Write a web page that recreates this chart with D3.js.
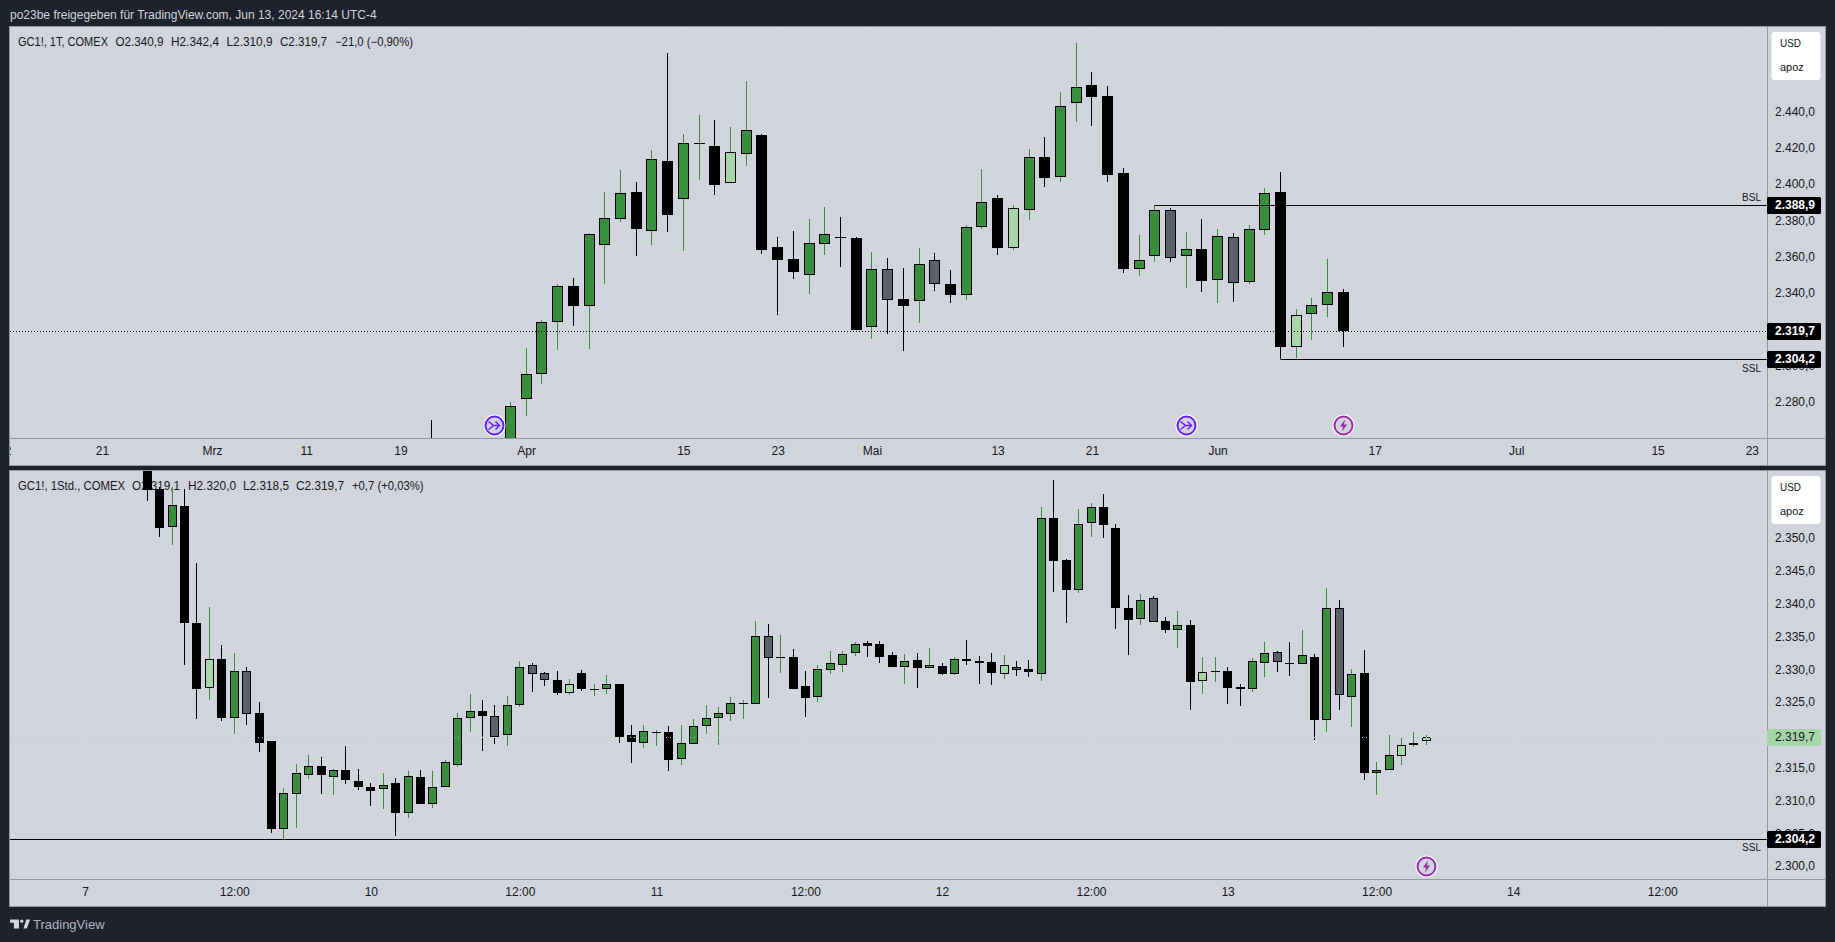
<!DOCTYPE html>
<html>
<head>
<meta charset="utf-8">
<title>GC1! daily and hourly</title>
<script src="https://cdn.jsdelivr.net/npm/d3@7/dist/d3.min.js"></script>
<style>
  html, body { margin: 0; padding: 0; background: #1e222d; overflow: hidden; }
  svg { display: block; }
  text { font-family: "Liberation Sans", Arial, sans-serif; }
</style>
</head>
<body>
<div id="chart"></div>
<script>
// kinds: u = up, d = down, l = up inside bar, s = down inside bar

// daily pane, bar numbers are trading days counted from the first April candle
var dailyBars = [-5, 0, 1, 2, 3, 4, 5, 6, 7, 8, 9, 10, 11, 12, 13, 14, 15, 16, 17, 18, 19, 20, 21, 22, 23, 24, 25, 26, 27, 28, 29, 30, 31, 32, 33, 34, 35, 36, 37, 38, 39, 40, 41, 42, 43, 44, 45, 46, 47, 48, 49, 50, 51, 52, 53];
var dailyOpen = [2258, 2255, 2282.2, 2296, 2324.6, 2344.1, 2333, 2367, 2381.3, 2395.8, 2374.7, 2412.8, 2392.3, 2422.8, 2421.1, 2401.1, 2417.1, 2427.2, 2365.5, 2358.9, 2350.5, 2367.5, 2371, 2370.5, 2321.5, 2353.4, 2336.9, 2336.2, 2358.4, 2345.2, 2339.5, 2376.9, 2392.5, 2365.3, 2386.2, 2415.1, 2404.4, 2445.1, 2454.9, 2448.8, 2406.4, 2353.8, 2360.9, 2385.9, 2360.9, 2364.4, 2347.7, 2371, 2346.6, 2375.2, 2395.8, 2310.9, 2329, 2334, 2340.9];
var dailyHigh = [2270.5, 2280.4, 2310.1, 2325.5, 2345.2, 2348.6, 2373.2, 2396, 2408.1, 2401.5, 2419.1, 2472.5, 2427.9, 2438.3, 2435.6, 2431.7, 2457.1, 2427.9, 2371.2, 2374.5, 2381.1, 2387.7, 2382.2, 2371.2, 2363, 2359.6, 2354.1, 2365.2, 2362.4, 2353, 2377.8, 2408.6, 2394.3, 2388.8, 2419.6, 2426.2, 2451, 2478, 2462, 2454.3, 2409.2, 2372.3, 2388.9, 2387, 2374, 2381.1, 2375.6, 2373.2, 2377.8, 2398, 2407, 2331.6, 2337.6, 2359.1, 2342.4];
var dailyLow = [2235, 2250, 2272.7, 2290.3, 2309, 2322.4, 2309.7, 2345.5, 2379.6, 2360.7, 2366.8, 2374.1, 2363.7, 2402.6, 2394.3, 2401.1, 2410.3, 2361.9, 2328.3, 2348.1, 2339.8, 2361.3, 2354.7, 2319.9, 2315.1, 2317.8, 2308.5, 2323.9, 2341.5, 2334.9, 2336.7, 2375.6, 2361.3, 2364.1, 2380.6, 2398.7, 2401.5, 2434.5, 2432.3, 2401.5, 2351.4, 2349.7, 2357.4, 2357.4, 2343.1, 2340.9, 2334.9, 2335.4, 2345.3, 2372.5, 2304.2, 2304.4, 2314.5, 2327.2, 2310.9];
var dailyClose = [2240, 2278, 2295.6, 2324.2, 2344.1, 2333.4, 2372.7, 2381.5, 2395.2, 2375.6, 2414, 2383.3, 2422.8, 2422.9, 2400, 2417.8, 2429.9, 2364.1, 2358.7, 2352.1, 2367.7, 2372.7, 2370.9, 2320, 2353.4, 2336.7, 2333.4, 2356.2, 2345.5, 2339.3, 2376.5, 2390.3, 2365.2, 2387, 2415.1, 2403.7, 2443.1, 2453.6, 2448.3, 2405.3, 2353.6, 2358.4, 2385.9, 2359.8, 2364.4, 2347, 2371.6, 2346.1, 2375.4, 2395.2, 2310.9, 2328.1, 2333.6, 2340.8, 2319.7];
var dailyKind = "d u u u u d u u u d u d u u d l u d d d u u d d u s d u s d u u d l u d u u d d d u u s u d u s u u d l u u d".split(" ");
var dailyTicks = [-32, -26, -19, -13, -7, 1, 11, 17, 23, 31, 37, 45, 55, 64, 73, 79];
var dailyTickLabels = ["2", "21", "Mrz", "11", "19", "Apr", "15", "23", "Mai", "13", "21", "Jun", "17", "Jul", "15", "23"];
var dailyPriceTicks = [2280, 2300, 2320, 2340, 2360, 2380, 2400, 2420, 2440];
var dailyEvents = [-1, 43, 53];
var dailyEventKinds = ["split", "split", "bolt"];

// hourly pane, bars counted from the first one in view
var hourlyOpen = [2365, 2357.6, 2351.7, 2355, 2337.1, 2327.3, 2331.6, 2322.7, 2329.8, 2323.4, 2319.1, 2305.8, 2311, 2314, 2315.4, 2313.7, 2314.7, 2313.1, 2312.1, 2311.9, 2312.7, 2308.1, 2313.6, 2309.6, 2312.2, 2315.5, 2322.7, 2323.7, 2322.9, 2320, 2324.7, 2330.7, 2329.5, 2328.5, 2326.4, 2329.5, 2327, 2327.1, 2327.9, 2320, 2318.9, 2320.5, 2320.5, 2316.4, 2318.7, 2321.5, 2322.7, 2323.3, 2324.9, 2324.8, 2335.2, 2331.9, 2331.9, 2327.5, 2325.9, 2330, 2330.8, 2332.6, 2334.1, 2333.9, 2332.2, 2330.5, 2331.5, 2330.3, 2330.6, 2329.4, 2331.6, 2331.4, 2331.2, 2329.4, 2330.5, 2330.1, 2329.4, 2353.1, 2346.7, 2342.2, 2352.4, 2354.8, 2351.6, 2339.4, 2337.8, 2340.9, 2337.4, 2336.1, 2336.8, 2328.3, 2329.8, 2329.8, 2327.4, 2327, 2331.1, 2332.7, 2331.1, 2330.9, 2332, 2322.4, 2339.4, 2325.9, 2329.5, 2314.3, 2314.8, 2316.9, 2318.6, 2319.1];
var hourlyHigh = [2368, 2357.8, 2357.8, 2357.6, 2346.3, 2339.6, 2333.8, 2332.6, 2330.4, 2325.1, 2319.1, 2312, 2315.6, 2317, 2316.7, 2314.9, 2318.4, 2314.9, 2312.7, 2314.3, 2313.5, 2314.6, 2314.7, 2314.6, 2316.3, 2323.4, 2326.3, 2325.4, 2324.6, 2326, 2331.3, 2331, 2329.6, 2329.8, 2328.6, 2330, 2327.8, 2329.2, 2327.9, 2321.6, 2321.6, 2320.8, 2321.4, 2321.6, 2322.5, 2324.6, 2324.3, 2325.8, 2325.4, 2337.4, 2337, 2335.3, 2333.2, 2329.8, 2330.7, 2332.9, 2332.9, 2334.2, 2334.4, 2334.4, 2332.7, 2332.4, 2332.6, 2333.3, 2331, 2332, 2334.5, 2332.1, 2332.6, 2332.2, 2331.3, 2331.5, 2354.8, 2358.9, 2346.9, 2354.5, 2355.4, 2356.8, 2352.2, 2341.4, 2341.5, 2341.3, 2338, 2339, 2337.6, 2331.9, 2331.9, 2330.4, 2327.8, 2331.8, 2334.2, 2332.8, 2334.2, 2336.1, 2332.4, 2342.5, 2340.6, 2330.1, 2333, 2315.9, 2320.1, 2319.6, 2320.5, 2320];
var hourlyLow = [2355.7, 2350.3, 2349, 2330.7, 2322.5, 2325.4, 2322.2, 2320.2, 2321.6, 2317.5, 2305.1, 2304.2, 2305.9, 2313.4, 2311.1, 2310.9, 2312.6, 2311.7, 2309.2, 2308.8, 2304.6, 2307.4, 2309.6, 2309, 2312.2, 2315.2, 2320.5, 2317.6, 2318.7, 2318.4, 2324.4, 2326.6, 2327.6, 2326.1, 2326.2, 2326.8, 2326, 2326.3, 2318.8, 2315.8, 2318.1, 2318.4, 2314.6, 2315.5, 2318.7, 2320.2, 2318.5, 2322.2, 2322.5, 2324.8, 2325.7, 2329.5, 2327.1, 2322.8, 2325.1, 2329.4, 2329.7, 2332.1, 2331.9, 2331, 2330.5, 2327.8, 2327.2, 2330.3, 2329.2, 2329.2, 2330.7, 2327.8, 2327.7, 2328.6, 2329, 2328.9, 2328.3, 2341.9, 2337.1, 2341.7, 2350.2, 2350.1, 2336.2, 2332.2, 2336.8, 2337.3, 2335.6, 2333.3, 2323.9, 2326.3, 2328.1, 2324.8, 2324.5, 2326.6, 2328.9, 2329.7, 2329, 2330.9, 2319.3, 2320.5, 2323.9, 2321.3, 2313.2, 2310.9, 2314.8, 2315.5, 2318.2, 2318.5];
var hourlyClose = [2357.4, 2351.6, 2355.1, 2337.1, 2327.1, 2331.6, 2322.7, 2329.8, 2323.3, 2318.9, 2305.8, 2311.2, 2314.2, 2315.4, 2313.9, 2314.8, 2313.2, 2312.2, 2311.6, 2312.5, 2308.1, 2313.8, 2309.6, 2312.2, 2316, 2322.7, 2323.7, 2323, 2319.8, 2324.6, 2330.5, 2329.3, 2328.5, 2326.4, 2327.9, 2327.1, 2327, 2327.9, 2319.8, 2319, 2320.6, 2320.5, 2316.3, 2318.9, 2321.4, 2322.7, 2323.4, 2324.9, 2324.9, 2335.2, 2331.8, 2331.9, 2327.1, 2325.7, 2330.1, 2331, 2332.4, 2333.9, 2333.7, 2332, 2330.5, 2331.4, 2330.3, 2330.7, 2329.4, 2331.7, 2331.3, 2331, 2329.5, 2330.7, 2330, 2329.7, 2353.1, 2346.6, 2342.2, 2352.2, 2354.8, 2352.1, 2339.4, 2337.6, 2340.7, 2337.3, 2336.1, 2336.8, 2328.1, 2329.6, 2329.8, 2327.2, 2327.1, 2331.3, 2332.5, 2331.2, 2331.1, 2332.2, 2322.4, 2339.4, 2326.1, 2329.3, 2314.3, 2314.8, 2317, 2318.6, 2318.9, 2319.7];
var hourlyKind = "d d u d d l d u s d d u u u d u d d d u d u d u u u u d s u u s s d l d u u d d u u d u u u u u u u s u d d u u u u d d d u d u d u d d d l s d u d d u u d d d u s d u d l u d d u u s d u d u s u d u u l u l".split(" ");
var hourlyBars = d3.range(hourlyOpen.length);
var hourlyTicks = [-5, 7, 18, 30, 41, 53, 64, 76, 87, 99, 110, 122];
var hourlyTickLabels = ["7", "12:00", "10", "12:00", "11", "12:00", "12", "12:00", "13", "12:00", "14", "12:00"];
var hourlyPriceTicks = [2300, 2305, 2310, 2315, 2320, 2325, 2330, 2335, 2340, 2345, 2350];
var hourlyEvents = [103];
var hourlyEventKinds = ["bolt"];

var lastPrice = 2319.7;
var buySideLevel = 2388.9;
var sellSideLevel = 2304.2;

var headerText = "po23be freigegeben für TradingView.com, Jun 13, 2024 16:14 UTC-4";
var dailyLegend = ["GC1!, 1T, COMEX", "O2.340,9", "H2.342,4", "L2.310,9", "C2.319,7", "\u221221,0 (\u22120,90%)"];
var hourlyLegend = ["GC1!, 1Std., COMEX", "O2.319,1", "H2.320,0", "L2.318,5", "C2.319,7", "+0,7 (+0,03%)"];

var width = 1835, height = 942;
var plotLeft = 10, axisLeft = 1767, paneRight = 1825;
var bg = "#d1d4dc", ink = "#131722", frame = "#9598a1";
var bodyFill = {u: "#388e3c", l: "#a5d6a7", d: "#000000", s: "#5d606b"};
var wickColor = {u: "#388e3c", l: "#388e3c", d: "#000000", s: "#000000"};

var priceFormat = d3.formatLocale({decimal: ",", thousands: ".", grouping: [3], currency: ["", ""]}).format(",.1f");

var svg = d3.select("#chart").append("svg")
    .attr("width", width)
    .attr("height", height);

svg.append("text")
    .attr("x", 10)
    .attr("y", 19)
    .attr("font-size", 12)
    .attr("fill", "#d1d4dc")
    .text(headerText);

/**
 * Draws one pane: plot area, time axis, price axis, candles and the level lines.
 */
function drawPane(pane) {
    var g = svg.append("g");
    var clipId = "clip-" + pane.name;

    g.append("clipPath").attr("id", clipId)
        .append("rect")
        .attr("x", plotLeft).attr("y", pane.top)
        .attr("width", axisLeft - plotLeft).attr("height", pane.axisTop - pane.top);

    var timeClipId = "time-clip-" + pane.name;
    g.append("clipPath").attr("id", timeClipId)
        .append("rect")
        .attr("x", plotLeft).attr("y", pane.axisTop)
        .attr("width", axisLeft - plotLeft).attr("height", pane.bottom - pane.axisTop);

    // pane background with its frame
    g.append("rect")
        .attr("x", plotLeft - 0.5).attr("y", pane.top - 0.5)
        .attr("width", paneRight - plotLeft + 1).attr("height", pane.bottom - pane.top + 1)
        .attr("fill", bg)
        .attr("stroke", frame);

    var x = d3.scaleLinear().domain(pane.xDomain).range(pane.xRange);
    var y = d3.scaleLinear().domain(pane.yDomain).range(pane.yRange);

    var plot = g.append("g").attr("clip-path", "url(#" + clipId + ")");

    // faint grid at the time ticks
    plot.selectAll(".grid")
        .data(pane.ticks)
        .enter().append("line")
        .attr("x1", function (d) { return Math.floor(x(d)) + 0.5; })
        .attr("x2", function (d) { return Math.floor(x(d)) + 0.5; })
        .attr("y1", pane.top)
        .attr("y2", pane.axisTop)
        .attr("stroke", "#d4d7de");

    // legend goes under the candles, squeezed to the widths of the original font
    plot.selectAll(".legend")
        .data(pane.legend)
        .enter().append("text")
        .attr("x", function (d, i) { return pane.legendX[i]; })
        .attr("y", pane.legendY)
        .attr("font-size", 12)
        .attr("fill", ink)
        .attr("textLength", function (d, i) { return pane.legendWidth[i]; })
        .attr("lengthAdjust", "spacingAndGlyphs")
        .text(function (d) { return d; });

    // candles
    var candles = pane.bars.map(function (b, i) {
        return {bar: b, open: pane.open[i], high: pane.high[i], low: pane.low[i], close: pane.close[i], kind: pane.kind[i]};
    });
    var candle = plot.selectAll(".candle")
        .data(candles)
        .enter().append("g")
        .attr("class", "candle");

    candle.append("line")
        .attr("x1", function (d) { return Math.floor(x(d.bar)) + 0.5; })
        .attr("x2", function (d) { return Math.floor(x(d.bar)) + 0.5; })
        .attr("y1", function (d) { return Math.round(y(d.high)); })
        .attr("y2", function (d) { return Math.round(y(d.low)); })
        .attr("stroke", function (d) { return wickColor[d.kind]; });

    candle.append("rect")
        .attr("x", function (d) { return Math.floor(x(d.bar)) + 0.5 - pane.bodyWidth / 2; })
        .attr("width", pane.bodyWidth)
        .attr("y", function (d) { return Math.round(y(Math.max(d.open, d.close))) + 0.5; })
        .attr("height", function (d) {
            var h = Math.round(y(Math.min(d.open, d.close))) - Math.round(y(Math.max(d.open, d.close))) - 1;
            return Math.max(h, 0.01);
        })
        .attr("fill", function (d) { return bodyFill[d.kind]; })
        .attr("stroke", "#000000");

    // level lines
    plot.selectAll(".level")
        .data(pane.levels)
        .enter().append("line")
        .attr("x1", function (d) { return d.from === null ? plotLeft : Math.floor(x(d.from)) + 0.5; })
        .attr("x2", axisLeft)
        .attr("y1", function (d) { return Math.round(y(d.price)) + 0.5; })
        .attr("y2", function (d) { return Math.round(y(d.price)) + 0.5; })
        .attr("stroke", "#000000");

    // last price line, dotted
    plot.append("line")
        .attr("x1", plotLeft)
        .attr("x2", axisLeft)
        .attr("y1", Math.round(y(lastPrice)) + 0.5)
        .attr("y2", Math.round(y(lastPrice)) + 0.5)
        .attr("stroke", pane.lastColor)
        .attr("stroke-dasharray", pane.lastDash);

    // level names
    plot.selectAll(".level-name")
        .data(pane.levels)
        .enter().append("text")
        .attr("x", 1761)
        .attr("y", function (d) { return Math.round(y(d.price)) + d.nameDy; })
        .attr("text-anchor", "end")
        .attr("font-size", 10)
        .attr("fill", ink)
        .text(function (d) { return d.name; });

    // event markers sit on a fixed row above the time axis
    var marker = plot.selectAll(".event")
        .data(pane.events)
        .enter().append("g")
        .attr("transform", function (d) {
            return "translate(" + (Math.floor(x(d)) + 0.5) + "," + pane.eventY + ")";
        });
    marker.append("circle").attr("r", 11).attr("fill", "#ffffff");
    marker.append("circle").attr("r", 9)
        .attr("fill", bg)
        .attr("stroke-width", 2)
        .attr("stroke", function (d, i) { return pane.eventKinds[i] === "bolt" ? "#9c27b0" : "#651fff"; });
    marker.append("path")
        .attr("d", function (d, i) {
            return pane.eventKinds[i] === "bolt"
                ? "M1.5,-6 L-3.5,1 L-0.5,1 L-1.5,6 L3.5,-1 L0.5,-1 Z"
                : "M-6,-4 L-1,0 L-6,4 M1,-4 L5,0 L1,4 M-1,0 L5,0";
        })
        .attr("fill", function (d, i) { return pane.eventKinds[i] === "bolt" ? "#9c27b0" : "none"; })
        .attr("stroke", function (d, i) { return pane.eventKinds[i] === "bolt" ? "none" : "#651fff"; })
        .attr("stroke-width", 1.4);

    // time axis
    g.append("line")
        .attr("x1", plotLeft).attr("x2", paneRight)
        .attr("y1", pane.axisTop + 0.5).attr("y2", pane.axisTop + 0.5)
        .attr("stroke", frame);
    g.append("line")
        .attr("x1", axisLeft + 0.5).attr("x2", axisLeft + 0.5)
        .attr("y1", pane.top).attr("y2", pane.bottom)
        .attr("stroke", frame);

    var timeAxis = g.append("g")
        .attr("clip-path", "url(#" + timeClipId + ")")
        .append("g")
        .attr("transform", "translate(0," + pane.axisTop + ")")
        .call(d3.axisBottom(x)
            .tickValues(pane.ticks)
            .tickSize(0)
            .tickPadding(8)
            .tickFormat(function (d, i) { return pane.tickLabels[i]; }));
    timeAxis.select(".domain").remove();
    timeAxis.selectAll("text")
        .attr("font-size", 12)
        .attr("font-family", null)
        .attr("fill", ink);

    // price axis
    var priceAxis = g.append("g")
        .attr("transform", "translate(" + axisLeft + ",0)")
        .call(d3.axisRight(y)
            .tickValues(pane.priceTicks)
            .tickSize(0)
            .tickPadding(8)
            .tickFormat(priceFormat));
    priceAxis.select(".domain").remove();
    priceAxis.selectAll("text")
        .attr("font-size", 12)
        .attr("font-family", null)
        .attr("dy", "0.27em")
        .attr("fill", ink);

    // price tags cover the axis labels below them
    var tag = g.selectAll(".tag")
        .data(pane.tags)
        .enter().append("g");
    tag.append("rect")
        .attr("x", axisLeft)
        .attr("width", 54)
        .attr("y", function (d) { return Math.round(y(d.price)) - 8; })
        .attr("height", 17)
        .attr("rx", 1.5)
        .attr("fill", function (d) { return d.fill; });
    tag.append("text")
        .attr("x", axisLeft + 8)
        .attr("y", function (d) { return Math.round(y(d.price)) + 4; })
        .attr("font-size", 12)
        .attr("font-weight", function (d) { return d.color === "#ffffff" ? "bold" : "normal"; })
        .attr("fill", function (d) { return d.color; })
        .text(function (d) { return priceFormat(d.price); });

    // currency box
    g.append("rect")
        .attr("x", 1771.5).attr("y", pane.top + 5)
        .attr("width", 49).attr("height", 48)
        .attr("rx", 3)
        .attr("fill", "#ffffff");
    g.append("text").attr("x", 1780).attr("y", pane.top + 20).attr("font-size", 11)
        .attr("textLength", 21).attr("lengthAdjust", "spacingAndGlyphs")
        .attr("fill", ink).text("USD");
    g.append("text").attr("x", 1780).attr("y", pane.top + 44).attr("font-size", 11).attr("fill", ink).text("apoz");
}

drawPane({
    name: "daily", top: 27, axisTop: 438, bottom: 465,
    xDomain: [0, 53], xRange: [510.5, 1343.3],
    yDomain: [2440, 2280], yRange: [112, 402.7],
    bars: dailyBars, open: dailyOpen, high: dailyHigh, low: dailyLow, close: dailyClose, kind: dailyKind,
    ticks: dailyTicks, tickLabels: dailyTickLabels, priceTicks: dailyPriceTicks,
    bodyWidth: 10,
    legend: dailyLegend, legendX: [18, 115.5, 171, 226.5, 280, 335], legendWidth: [90, 48, 48, 46, 47, 78], legendY: 46,
    levels: [
        {price: buySideLevel, from: 41, name: "BSL", nameDy: -4},
        {price: sellSideLevel, from: 49, name: "SSL", nameDy: 13}
    ],
    lastColor: "#000000", lastDash: "1,2",
    events: dailyEvents, eventKinds: dailyEventKinds, eventY: 425.5,
    tags: [
        {price: buySideLevel, fill: "#000000", color: "#ffffff"},
        {price: lastPrice, fill: "#000000", color: "#ffffff"},
        {price: sellSideLevel, fill: "#000000", color: "#ffffff"}
    ]
});

drawPane({
    name: "hourly", top: 471, axisTop: 879, bottom: 906,
    xDomain: [0, 103], xRange: [147.3, 1426.3],
    yDomain: [2350, 2300], yRange: [538.6, 866.6],
    bars: hourlyBars, open: hourlyOpen, high: hourlyHigh, low: hourlyLow, close: hourlyClose, kind: hourlyKind,
    ticks: hourlyTicks, tickLabels: hourlyTickLabels, priceTicks: hourlyPriceTicks,
    bodyWidth: 8,
    legend: hourlyLegend, legendX: [18, 132, 188, 243, 296, 352], legendWidth: [107, 48, 48, 46, 48, 71.5], legendY: 490,
    levels: [
        {price: sellSideLevel, from: null, name: "SSL", nameDy: 12}
    ],
    lastColor: "#a5d6a7", lastDash: "1,3",
    events: hourlyEvents, eventKinds: hourlyEventKinds, eventY: 866.5,
    tags: [
        {price: lastPrice, fill: "#a5d6a7", color: ink},
        {price: sellSideLevel, fill: "#000000", color: "#ffffff"}
    ]
});

// footer logo and name
var logo = svg.append("g").attr("transform", "translate(10,919.5) scale(0.56)");
logo.append("path").attr("fill", "#d1d4dc")
    .attr("d", "M0,0 H16 V16 H7 V6 H0 Z M24,16 L29,0 H36 L30,16 Z");
logo.append("circle").attr("fill", "#d1d4dc").attr("cx", 21).attr("cy", 3).attr("r", 3);

svg.append("text")
    .attr("x", 33)
    .attr("y", 929)
    .attr("font-size", 13)
    .attr("fill", "#b2b5be")
    .text("TradingView");
</script>
</body>
</html>
